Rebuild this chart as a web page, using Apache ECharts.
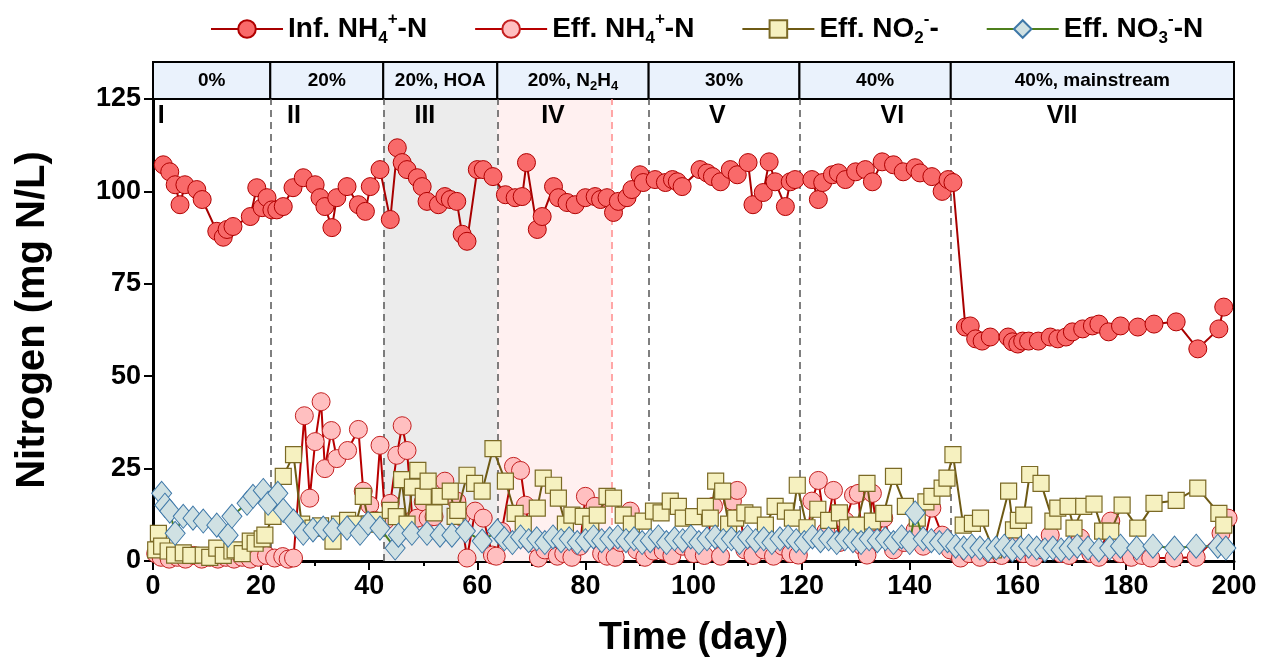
<!DOCTYPE html>
<html style="height: 100%">
<head>
<meta charset="utf-8">
<script src="https://cdn.jsdelivr.net/npm/echarts@6/dist/echarts.min.js"></script>
</head>
<body style="height: 100%; margin: 0; background: #fff;">
<div id="container" style="width: 1263px; height: 663px"></div>
<script type="text/javascript">
// ---- data ----
var infDay = [1.9,3.1,4.1,5.0,5.9,8.1,9.1,11.8,13.0,13.7,14.8,18.0,19.2,20.2,21.1,22.0,22.9,24.1,25.9,27.8,30.0,30.9,31.8,33.1,34.0,35.9,38.0,39.3,40.2,42.0,43.9,45.2,46.1,47.0,48.9,49.8,50.7,52.8,54.0,55.0,56.2,57.2,58.1,60.0,61.1,62.9,65.2,67.0,68.3,69.1,71.1,72.0,74.1,75.0,76.6,78.1,80.0,81.8,82.8,84.0,85.2,86.1,87.7,88.6,90.1,90.7,92.9,94.8,96.1,97.0,97.9,101.2,102.5,103.5,105.0,106.8,108.1,110.1,111.0,112.9,114.0,115.1,117.0,117.9,118.8,121.9,123.1,123.9,125.7,126.8,128.1,130.0,131.8,133.1,134.9,137.0,138.8,141.0,141.9,144.1,146.0,147.1,148.0,150.3,151.2,152.2,153.4,154.9,158.2,159.0,160.0,160.9,162.0,163.8,166.0,167.4,168.9,170.1,172.0,173.8,175.0,176.8,179.0,182.2,185.2,189.3,193.3,197.2,198.1];
var infVal = [107.2,105.3,101.8,96.4,101.8,100.5,97.8,89.2,87.6,89.7,90.5,93.2,101,95.6,98.3,95,95,95.9,101,103.7,101.8,98.3,95.9,90.2,98.3,101.3,96.4,94.6,101.3,105.9,92.4,111.8,107.8,105.9,103.7,101.3,97.3,96.4,98.6,97.8,97.3,88.4,86.5,105.9,105.9,104,99.1,98.3,98.6,107.8,89.7,93.2,101.3,98.3,97,96.4,98.3,98.6,97.8,98.3,94.3,97.3,98.3,100.5,104.5,102.4,103.2,102.4,103.2,102.6,101.3,105.9,105,104,102.6,105.9,104.5,107.8,96.4,99.7,108,102.6,95.9,102.6,103.2,103.2,97.8,102.4,104.5,105,103.2,105.3,105.9,102.6,108,107.2,105.3,106.4,105,104,100,103.2,102.4,63.3,63.6,60.1,59.5,60.6,60.6,59.3,58.7,59.5,59.5,59.5,60.6,60.1,60.6,62,62.8,63.6,64.1,62,63.6,63.3,64.1,64.7,57.4,62.8,68.7];

var effNhDay = [0.5,1.5,3,4.5,6,7.5,9,10.5,12,13.5,15,16.5,18,19.5,21,22.5,24,25,26,28,29,30,31.1,31.8,33,34,36,38,38.9,40.1,41,42,43,43.9,45.1,46.1,47,48,48.9,50,50.9,52,54,56.2,57,58.1,59.6,61.1,62.8,63.5,64.5,66.7,68,68.9,70,71.3,72.5,74.8,76,77.5,79,80,81.8,83,84,85.5,86.5,88.3,89.5,91,92.6,94.4,96,98,100,102,103.7,105,107.2,108.1,109.5,111,113,114.8,116.5,118,119.4,121,121.9,123.1,124.5,125.9,127,128.1,129.6,130.5,131.2,132.1,133.1,134,135.2,137,139,141,142.5,144.1,146,147.5,149.4,151,153,155,157,159.2,161,163,164.5,166,168,169.5,171.6,173.5,175,177.2,179,181,183,184.6,188.9,193,197.6,198.9];
var effNhVal = [2,1,0.5,1,0.5,1.5,0.5,1,0.5,1,0.5,1,0.5,1,1.5,0.8,1.2,0.5,0.8,39.3,17,32.3,43.1,25,35.3,27.7,29.9,35.6,18.9,15.1,11,31.3,11,15.6,28.6,36.6,29.9,11,11.6,16,11.6,12,21.6,16.2,12,0.8,13.5,11.6,1.6,1.3,8,25.6,24.5,15.1,5,0.8,3,1.3,2,1,4,17.5,14.8,2,1.3,1,5,13.5,3,1,2.7,2.7,1.5,4,2,1.5,14.8,1.3,16.2,19.1,3,1.5,3,1.3,4,2,1.6,6,16.2,21.8,8,19.1,5,10.8,17.8,18.3,4,1.6,18.3,6,11.6,3,5,8.4,4,14.3,7,3,0.8,2,1,2,1.5,4,2,1,3,7,2,1.5,6.2,2,1,10.8,2,1,1.5,0.8,0.8,1,7.5,11.6];

var no2Day = [0.5,1,1.6,2.8,4,5.6,7,9.3,10.5,11.8,13,14.6,15.2,16.5,18,18.9,20.2,20.7,22.2,24.1,26,27.5,29.6,31,33.3,34.5,36,37.5,38.9,40,41.5,43.9,45,46,47,48,49,50,50.9,52,53.1,55,55.9,56.4,58.1,59.5,60.9,62.9,65.2,67,68.5,71.1,72.2,74.1,75,76.3,77.5,79.6,81,82.2,84,85.2,87,88.5,90.7,92.6,94,95.7,97.2,98.1,100,102.2,103.1,104.1,105.4,106.5,107.8,109.5,111,113.3,115.1,117,118.3,119.2,121,123,125,127,128.5,130.2,132.1,133.1,135.2,137,139.2,141.4,143,144.1,146,146.9,148,149.9,151.6,153.1,155.5,158.3,159.2,160.1,161.1,162.2,164.3,166.5,167.4,169.3,170.4,172.2,174.1,175.7,177.2,179.3,182.2,185.2,189.3,193.3,197.2,198.1];
var no2Val = [3,7.5,4,2.7,1.6,2.2,1.5,1.6,1,3.5,1.5,2.7,3,2,5.4,4.8,6,7,12.1,22.9,28.8,10,8.9,9.5,5.4,10,11,10,17.5,10,11,13.7,12,22,10,20,24.5,17.5,21.6,13,17.5,18.9,12.1,13.7,23.2,21,18.9,30.4,21.6,12.9,10,14.3,22.4,20.5,17,10,12.4,12.1,10,12.4,17.5,17,12.4,10,10.8,13.5,13,16.2,14.8,11.6,12,14.8,11.6,21.6,18.9,10,11.6,13,12.4,9.7,14.8,13.5,11.6,20.5,9,14,11,13,9,9.7,21,10.8,12.9,22.9,14.8,11.6,16,17.5,19.7,22.4,28.8,9.7,10.2,11.6,3,18.9,8.4,11,12.4,23.4,21,10.8,14.3,14.8,8.9,14.8,15.4,8.1,8.1,15.1,8.9,15.6,16.4,19.7,12.9,9.7];

var no3Day = [1.6,2.2,3.1,4.1,5.6,7.4,9.3,11.8,13.9,14.6,17.4,18.5,20.4,21.3,23.1,24.1,26,27.8,29.6,31.5,33.3,35.9,38.3,39.8,42,44.8,45.4,47.9,50.7,53.1,55.3,57.8,60.9,63.7,65,66.5,68,69.5,71,72.5,74,75.5,77,78.5,80,81.5,83,84.5,86,87.5,89,90.5,92,93.5,95,96.5,98,99.5,101,102.5,104,105.5,107,108.5,110,111.5,113,114.5,116,117.5,119,120.5,122,123.5,125,126.5,128,129.5,131,132.5,134,135.5,137,138.5,140,141,142.5,144,145.5,147,148.5,150,151.5,153,154.5,156,157.5,159,160.5,162,163.5,165,166.5,168,169.5,171,173,175,177,179,182,185,189,193,197,198.5];
var no3Val = [18.3,15.1,13.5,7.5,12.1,11.6,10.8,9.7,7,12.1,15.6,17.5,19.1,15.6,18.3,13.7,10.8,7.5,8.4,8.9,8.4,8.9,7.5,10.2,8.9,3.5,7,7.5,7.5,7,7,8.1,5.4,8.1,6,5,6.5,5.5,6,5,6.5,5.5,6,5,5.5,6.5,5.5,6,6.5,5.5,6,5,5.5,6.5,5,6,5.5,6.5,5,6,6.5,5.5,6,5,6.5,5.5,6,5,6,6.5,5.5,5,6.5,5.5,6,5,6,5.5,5,6,5.5,6,5,6.5,5,13,6,5.5,5,5.5,4,3.5,4,3.5,3,3.5,4,3,3.5,4,3.5,3,3.5,3,3.5,4,3.5,3,3.5,4,3.5,4,3.5,4,4,3.5];

// phases
var phaseEdges = [0, 21.7, 42.6, 63.7, 91.7, 119.6, 147.6, 200];
var phaseHeads = ['0%', '20%', '20%, HOA', '{a|20%, N}{s|2}{a|H}{s|4}', '30%', '40%', '40%, mainstream'];
var phaseNums = ['I', 'II', 'III', 'IV', 'V', 'VI', 'VII'];
var phaseNumDay = [1.5, 26.1, 50.3, 74.0, 104.4, 136.8, 168.2];
var hoaRange = [42.6, 63.7];
var n2h4Range = [63.7, 84.8];

function pairs(d, v) {
    var out = [];
    for (var i = 0; i < d.length; i++) out.push([d[i], v[i]]);
    return out;
}

var FONT = 'Liberation Sans';
var dom = document.getElementById('container');
var myChart = echarts.init(dom);

var headAreas = [];
for (var i = 0; i < phaseHeads.length; i++) {
    headAreas.push([{ xAxis: phaseEdges[i], yAxis: 0, name: phaseHeads[i] }, { xAxis: phaseEdges[i + 1], yAxis: 1 }]);
}
var dashLines = [];
for (var i = 1; i < phaseEdges.length - 1; i++) {
    dashLines.push({ xAxis: phaseEdges[i] });
}
var numData = [];
for (var i = 0; i < phaseNums.length; i++) {
    numData.push({ value: [phaseNumDay[i], 120.5], name: phaseNums[i] });
}

var legendRich = {
    a: { fontFamily: FONT, fontWeight: 'bold', fontSize: 28, lineHeight: 36, color: '#000' },
    sub: { fontFamily: FONT, fontWeight: 'bold', fontSize: 17, verticalAlign: 'bottom', lineHeight: 36, color: '#000' },
    sup: { fontFamily: FONT, fontWeight: 'bold', fontSize: 17, verticalAlign: 'top', lineHeight: 36, color: '#000' }
};
var legendNames = {
    'Inf': '{a|Inf. NH}{sub|4}{sup|+}{a|-N}',
    'EffNH': '{a|Eff. NH}{sub|4}{sup|+}{a|-N}',
    'NO2': '{a|Eff. NO}{sub|2}{sup|-}{a|-}',
    'NO3': '{a|Eff. NO}{sub|3}{sup|-}{a|-N}'
};

var option = {
    animation: false,
    backgroundColor: '#fff',
    legend: {
        top: 6,
        left: 205,
        itemWidth: 72,
        itemHeight: 22,
        itemGap: 47,
        data: ['Inf', 'EffNH', 'NO2', 'NO3'],
        formatter: function (name) { return legendNames[name]; },
        textStyle: { rich: legendRich }
    },
    grid: [
        { left: 153, right: 29, top: 99, bottom: 100, show: true, borderColor: '#000', borderWidth: 2 },
        { left: 153, right: 29, top: 62, height: 37 }
    ],
    xAxis: [{
        gridIndex: 0,
        type: 'value',
        min: 0, max: 200, interval: 20,
        name: 'Time (day)',
        nameLocation: 'middle',
        nameGap: 59,
        nameTextStyle: { fontFamily: FONT, fontWeight: 'bold', fontSize: 38, color: '#000' },
        axisLine: { lineStyle: { color: '#000', width: 3 } },
        axisTick: { inside: false, length: 9, lineStyle: { color: '#000', width: 2 } },
        minorTick: { show: true, splitNumber: 2, length: 5, lineStyle: { color: '#000', width: 2 } },
        axisLabel: { fontFamily: FONT, fontWeight: 'bold', fontSize: 27, color: '#000', margin: 12 },
        splitLine: { show: false }
    }, {
        gridIndex: 1,
        type: 'value',
        min: 0, max: 200,
        show: false
    }],
    yAxis: [{
        gridIndex: 0,
        type: 'value',
        min: 0, max: 125, interval: 25,
        name: 'Nitrogen (mg N/L)',
        nameLocation: 'middle',
        nameGap: 100,
        nameTextStyle: { fontFamily: FONT, fontWeight: 'bold', fontSize: 40, color: '#000', padding: [0, 0, 0, 20] },
        axisLine: { show: true, lineStyle: { color: '#000', width: 3 } },
        axisTick: { show: true, inside: false, length: 9, lineStyle: { color: '#000', width: 2 } },
        axisLabel: { fontFamily: FONT, fontWeight: 'bold', fontSize: 27, color: '#000', margin: 12 },
        splitLine: { show: false }
    }, {
        gridIndex: 1,
        type: 'value',
        min: 0, max: 1,
        show: false
    }],
    series: [
        {
            name: 'Inf',
            type: 'line',
            data: pairs(infDay, infVal),
            symbol: 'circle',
            symbolSize: 18,
            lineStyle: { color: '#a80000', width: 2 },
            itemStyle: { color: '#f96a6a', borderColor: '#b00000', borderWidth: 1 },
            z: 5,
            markArea: {
                silent: true,
                z: 1,
                data: [
                    [{ xAxis: hoaRange[0], itemStyle: { color: '#ececec' } }, { xAxis: hoaRange[1] }],
                    [{ xAxis: n2h4Range[0], itemStyle: { color: '#fff0f0' } }, { xAxis: n2h4Range[1] }]
                ]
            },
            markLine: {
                silent: true,
                symbol: 'none',
                label: { show: false },
                data: dashLines.concat([{ xAxis: n2h4Range[1], lineStyle: { color: '#ff8a8a' } }]),
                lineStyle: { color: '#555', type: [7, 5], width: 1.5 }
            }
        },
        {
            name: 'EffNH',
            type: 'line',
            data: pairs(effNhDay, effNhVal),
            symbol: 'circle',
            symbolSize: 18,
            lineStyle: { color: '#b80000', width: 2 },
            itemStyle: { color: '#ffbfc0', borderColor: '#c42020', borderWidth: 1 },
            z: 6
        },
        {
            name: 'NO2',
            type: 'line',
            data: pairs(no2Day, no2Val),
            symbol: 'rect',
            symbolSize: 16,
            lineStyle: { color: '#6e5a14', width: 2 },
            itemStyle: { color: '#f6f1c0', borderColor: '#7b6a26', borderWidth: 1.2 },
            z: 7
        },
        {
            name: 'NO3',
            type: 'line',
            data: pairs(no3Day, no3Val),
            symbol: 'diamond',
            symbolSize: [20, 24],
            lineStyle: { color: '#4e7f1c', width: 2 },
            itemStyle: { color: '#d0e1e3', borderColor: '#3e78a8', borderWidth: 1 },
            z: 8
        },
        {
            name: 'phaseNum',
            type: 'scatter',
            data: numData,
            symbolSize: 1,
            silent: true,
            itemStyle: { color: 'rgba(0,0,0,0)', opacity: 1 },
            label: {
                show: true,
                position: 'inside',
                formatter: '{b}',
                opacity: 1,
                textBorderWidth: 0,
                fontFamily: FONT, fontWeight: 'bold', fontSize: 25, color: '#000'
            },
            z: 10
        },
        {
            name: 'head',
            type: 'line',
            xAxisIndex: 1,
            yAxisIndex: 1,
            data: [],
            markArea: {
                silent: true,
                itemStyle: { color: '#eaf2fc', borderColor: '#000', borderWidth: 2 },
                label: {
                    show: true,
                    position: 'inside',
                    fontFamily: FONT, fontWeight: 'bold', fontSize: 19, color: '#000',
                    rich: {
                        a: { fontFamily: FONT, fontWeight: 'bold', fontSize: 19, color: '#000', lineHeight: 24 },
                        s: { fontFamily: FONT, fontWeight: 'bold', fontSize: 13, color: '#000', verticalAlign: 'bottom', lineHeight: 24 }
                    }
                },
                data: headAreas
            }
        }
    ]
};
myChart.setOption(option);
</script>
</body>
</html>
